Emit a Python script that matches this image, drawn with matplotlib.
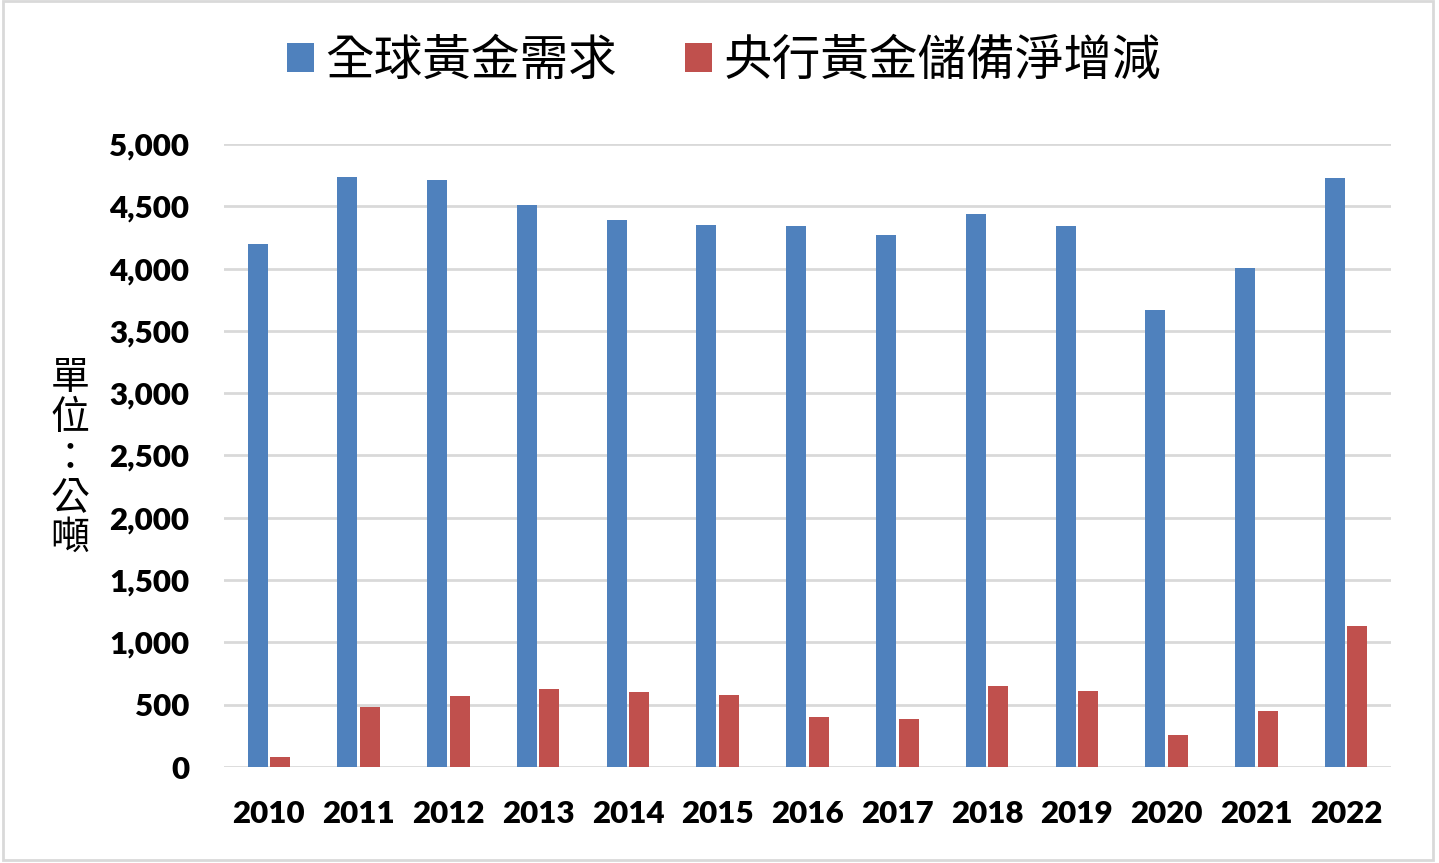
import matplotlib
matplotlib.use("Agg")
import matplotlib.pyplot as plt
import numpy as np
from matplotlib.patches import Rectangle

years = ["2010", "2011", "2012", "2013", "2014", "2015", "2016",
         "2017", "2018", "2019", "2020", "2021", "2022"]
demand = [4197, 4735, 4711, 4510, 4390, 4350, 4342, 4270, 4438, 4342, 3668, 4005, 4727]
cb_net = [80, 482, 570, 626, 602, 578, 401, 385, 650, 610, 257, 450, 1132]
series_names = ["全球黃金需求", "央行黃金儲備淨增減"]
yticks = [0, 500, 1000, 1500, 2000, 2500, 3000, 3500, 4000, 4500, 5000]
ylabel = "單\n位\n：\n公\n噸"

cjk = ["Noto Sans CJK TC", "DejaVu Sans"]

fig = plt.figure(figsize=(14.39, 8.63), dpi=100)
ax = fig.add_axes([224/1439, 1-767/863, (1391-224)/1439, (767-144)/863])

x = np.arange(len(years))
w = 0.223
gap = 0.028
ax.bar(x - w/2 - gap/2, demand, width=w, color="#4f81bd", label=series_names[0], zorder=3)
ax.bar(x + w/2 + gap/2, cb_net, width=w, color="#c0504d", label=series_names[1], zorder=3)

ax.set_xlim(-0.5, len(years) - 0.5)
ax.set_ylim(0, 5000)
ax.set_yticks(yticks)
ax.set_yticklabels([f"{v:,}" for v in yticks], fontfamily="Lato", fontweight="heavy", fontsize=22.5)
ax.set_xticks(x)
ax.set_xticklabels(years, fontfamily="Lato", fontweight="heavy", fontsize=22.5)
ax.tick_params(axis="both", length=0)
ax.tick_params(axis="y", pad=25)
ax.tick_params(axis="x", pad=24)
for s in ax.spines.values():
    s.set_visible(False)
ax.yaxis.grid(True, color="#d9d9d9", linewidth=2, zorder=0)
ax.set_axisbelow(True)

fig.text(70/1439, 1-458/863, ylabel, family=cjk, fontsize=28, ha="center", va="center",
         linespacing=1.0)

fig.legend(loc="center", bbox_to_anchor=(724/1439, 1-61/863), ncol=2, frameon=False,
           prop={"family": cjk, "size": 35}, handlelength=0.56, handleheight=0.56,
           handletextpad=0.23, columnspacing=1.4)

fig.patches.append(Rectangle((0.002, 0.004), 0.994, 0.995, transform=fig.transFigure,
                             fill=False, edgecolor="#d9d9d9", linewidth=2))

fig.savefig("out.png", dpi=100, facecolor="white")
